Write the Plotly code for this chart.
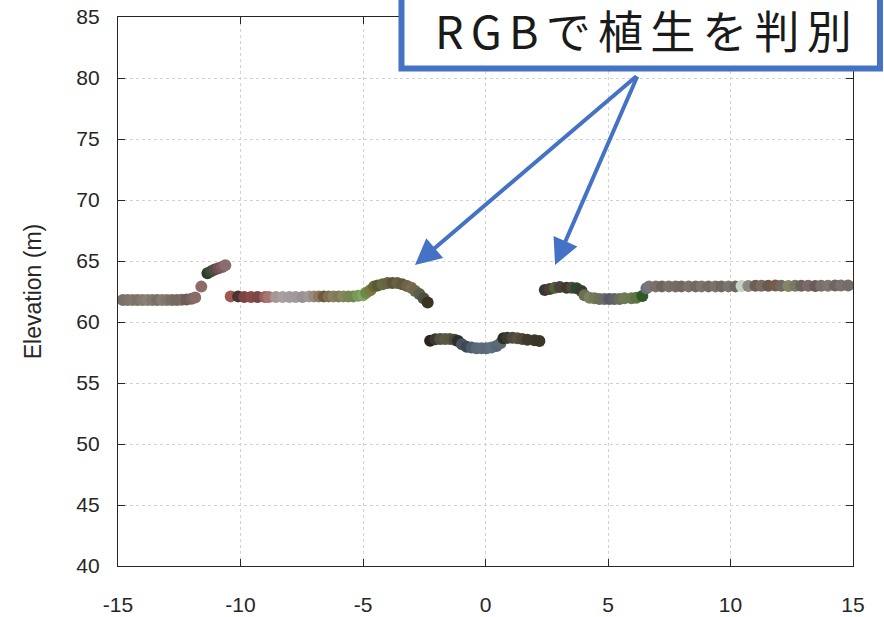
import plotly.graph_objects as go

# ---- data ----
left_x = [-14.8, -14.6, -14.4, -14.2, -14.0, -13.8, -13.6, -13.4, -13.2, -13.0, -12.8, -12.6, -12.4, -12.2, -12.0, -11.85]
left_y = [61.8, 61.8, 61.8, 61.8, 61.8, 61.8, 61.8, 61.8, 61.8, 61.8, 61.8, 61.8, 61.82, 61.85, 61.9, 62.0]
left_c = ["#7b7068", "#7f746a", "#83786e", "#7d7268", "#847a70", "#8a8076", "#85796f", "#7c7066",
          "#887c72", "#82766c", "#7a6e64", "#766a60", "#7a6a62", "#6e5e56", "#7a6460", "#8a6a66"]

step_x = [-11.6, -11.35, -11.2, -11.05, -10.9, -10.75, -10.62]
step_y = [62.9, 64.0, 64.15, 64.3, 64.4, 64.5, 64.65]
step_c = ["#8c6c68", "#2c3e2c", "#3e4a3a", "#5a4a46", "#6e5254", "#7a5c60", "#8a6c70"]

mid_x = [-10.4, -10.1, -9.85, -9.57, -9.3, -9.0, -8.85, -8.56, -8.28, -8.0, -7.75, -7.47, -7.2, -7.0,
         -6.8, -6.6, -6.4, -6.2, -6.0, -5.8, -5.6, -5.4, -5.2, -5.0,
         -4.87, -4.7, -4.55, -4.4, -4.2, -4.0, -3.8, -3.6, -3.4, -3.2, -3.03, -2.87, -2.7, -2.53, -2.36]
mid_y = [62.1, 62.1, 62.05, 62.05, 62.05, 62.05, 62.05, 62.05, 62.05, 62.05, 62.05, 62.05, 62.1, 62.1,
         62.1, 62.1, 62.1, 62.1, 62.1, 62.1, 62.1, 62.1, 62.15, 62.2,
         62.4, 62.6, 62.9, 63.0, 63.1, 63.2, 63.2, 63.2, 63.1, 62.95, 62.8, 62.55, 62.3, 61.95, 61.6]
mid_c = ["#a05850", "#4a3430", "#7a4440", "#884a48", "#7a4646", "#9a605c", "#a87470", "#a89694",
         "#a8a0a0", "#a49c9c", "#a29a9a", "#9a9292", "#a09a96", "#988a80", "#8c7860", "#6e5a40",
         "#807050", "#8a8060", "#7e7a58", "#888860", "#7c8458", "#6e8a50", "#7a9a5a", "#80a860",
         "#6c8a48", "#7a7a40", "#6a6838", "#5a5a34", "#6a6a40", "#6a6244", "#5a5438", "#6a6040",
         "#5e5a40", "#706448", "#7a6a50", "#6c6a50", "#5a6048", "#4e5040", "#3a3420"]

low_x = [-2.26, -2.05, -1.85, -1.65, -1.46, -1.26, -1.12, -0.96, -0.77, -0.57, -0.37, -0.16, 0.04,
         0.24, 0.45, 0.61, 0.73, 0.89, 1.1, 1.3, 1.5, 1.71, 2.0, 2.2]
low_y = [58.47, 58.58, 58.6, 58.6, 58.6, 58.55, 58.45, 58.17, 57.98, 57.9, 57.85, 57.85, 57.85,
         57.9, 58.03, 58.25, 58.66, 58.7, 58.7, 58.66, 58.6, 58.55, 58.5, 58.44]
low_c = ["#2a2020", "#3a3630", "#505040", "#5a5a48", "#585844", "#4a4a3a", "#2e2e2c", "#4a5260",
         "#3c4a58", "#4e5c6a", "#586878", "#5e6c7a", "#5a6a78", "#607080", "#566878", "#5a6a70",
         "#302c24", "#3a3a30", "#4a4a3c", "#5a5040", "#4e4838", "#403a2e", "#3c3828", "#3a3526"]

right1_x = [2.42, 2.62, 2.83, 3.03, 3.31, 3.52, 3.72, 3.92, 4.04, 4.25, 4.45, 4.65, 4.86, 5.06,
            5.26, 5.47, 5.67, 5.96, 6.16, 6.4]
right1_y = [62.62, 62.7, 62.8, 62.87, 62.8, 62.8, 62.76, 62.54, 62.2, 61.99, 61.94, 61.89, 61.89,
            61.89, 61.89, 61.89, 61.94, 61.94, 61.99, 62.13]
right1_c = ["#3a3530", "#4a4036", "#506040", "#4a4238", "#3e3a30", "#4a4a3a", "#2a4a30", "#3a3a30",
            "#6a7050", "#7a8060", "#727a58", "#6e7058", "#6a6a6a", "#5a5a62", "#606068", "#6a7058",
            "#707a5a", "#6a7a50", "#607048", "#2c5a24"]

right2_x = [6.57, 6.67, 6.95, 7.2, 7.48, 7.76, 8.0, 8.29, 8.58, 8.82, 9.1, 9.39, 9.63, 9.92, 10.2,
            10.45, 10.73, 11.02, 11.26, 11.54, 11.83, 12.07, 12.36, 12.64, 12.89, 13.17, 13.46,
            13.7, 13.98, 14.27, 14.51, 14.8]
right2_y = [62.76, 62.9, 62.92, 62.92, 62.92, 62.92, 62.92, 62.92, 62.92, 62.92, 62.92, 62.92,
            62.92, 62.92, 62.92, 62.95, 62.95, 62.98, 62.98, 62.98, 63.0, 62.98, 62.95, 62.98,
            62.98, 62.98, 62.95, 62.98, 62.98, 63.0, 63.0, 63.0]
right2_c = ["#6e6e78", "#76767e", "#7a7068", "#6e665e", "#7a7068", "#766a62", "#706860", "#7a7268",
            "#726a62", "#7c746a", "#746c64", "#7a726a", "#6e6860", "#7a746c", "#6a6860", "#c4d2c4",
            "#8a8880", "#6a6058", "#7a6a60", "#6a5a50", "#7a5a48", "#706a60", "#868468", "#7a7a60",
            "#6a6460", "#7a6a68", "#6a5a5a", "#7a706a", "#7e7670", "#6e6660", "#7a726c", "#746c66"]

x_ticks = [-15, -10, -5, 0, 5, 10, 15]
y_ticks = [40, 45, 50, 55, 60, 65, 70, 75, 80, 85]
y_title = "Elevation (m)"
callout_text = "RGBで植生を判別"
arrow_tips = [(-2.88, 64.67), (2.84, 64.67)]
arrow_tail = (6.22, 80.25)

# ---- figure ----
all_x = left_x + step_x + mid_x + low_x + right1_x + right2_x
all_y = left_y + step_y + mid_y + low_y + right1_y + right2_y
all_c = left_c + step_c + mid_c + low_c + right1_c + right2_c

fig = go.Figure()
fig.add_trace(go.Scatter(
    x=all_x, y=all_y, mode="markers",
    marker=dict(size=12, color=all_c, line=dict(width=0)),
    showlegend=False, hoverinfo="skip", cliponaxis=True,
))

axis_common = dict(
    showline=True, linecolor="#262626", linewidth=1.2, mirror="ticks",
    ticks="inside", ticklen=7, tickcolor="#262626", tickwidth=1,
    showgrid=True, gridcolor="#d2d2d2", griddash="dot", gridwidth=1,
    zeroline=False, automargin=False,
    tickfont=dict(family="Liberation Sans", size=21, color="#262626"),
)

fig.update_xaxes(range=[-15, 15], tickvals=x_ticks, ticktext=[str(v) for v in x_ticks],
                 ticklabelstandoff=20, **axis_common)
fig.update_yaxes(range=[40, 85], tickvals=y_ticks, ticktext=[str(v) for v in y_ticks],
                 ticklabelstandoff=13,
                 title=dict(text=y_title, font=dict(family="Liberation Sans", size=23, color="#262626"),
                            standoff=28),
                 **axis_common)

# callout box (partially above the figure)
fig.add_shape(type="rect", xref="paper", yref="paper",
              x0=0.3857, x1=1.0367, y0=0.906, y1=1.08,
              line=dict(color="#4472C4", width=6), fillcolor="white", layer="above")
fig.add_annotation(xref="paper", yref="paper", x=0.7195, y=0.978,
                   text='<span style="letter-spacing:7.2px">' + callout_text + '</span>',
                   showarrow=False, xanchor="center", yanchor="middle", borderpad=0,
                   font=dict(family="Noto Sans CJK JP", size=45, color="#1a1a1a"))
for tx, ty in arrow_tips:
    fig.add_annotation(x=tx, y=ty, xref="x", yref="y", ax=arrow_tail[0], ay=arrow_tail[1],
                       axref="x", ayref="y", text="", showarrow=True,
                       arrowhead=2, arrowsize=1.3, arrowwidth=4, arrowcolor="#4472C4", standoff=0)

fig.update_layout(
    width=884, height=617,
    margin=dict(l=118, r=31, t=17, b=51),
    plot_bgcolor="white", paper_bgcolor="white",
)

fig.write_html("out.html")
